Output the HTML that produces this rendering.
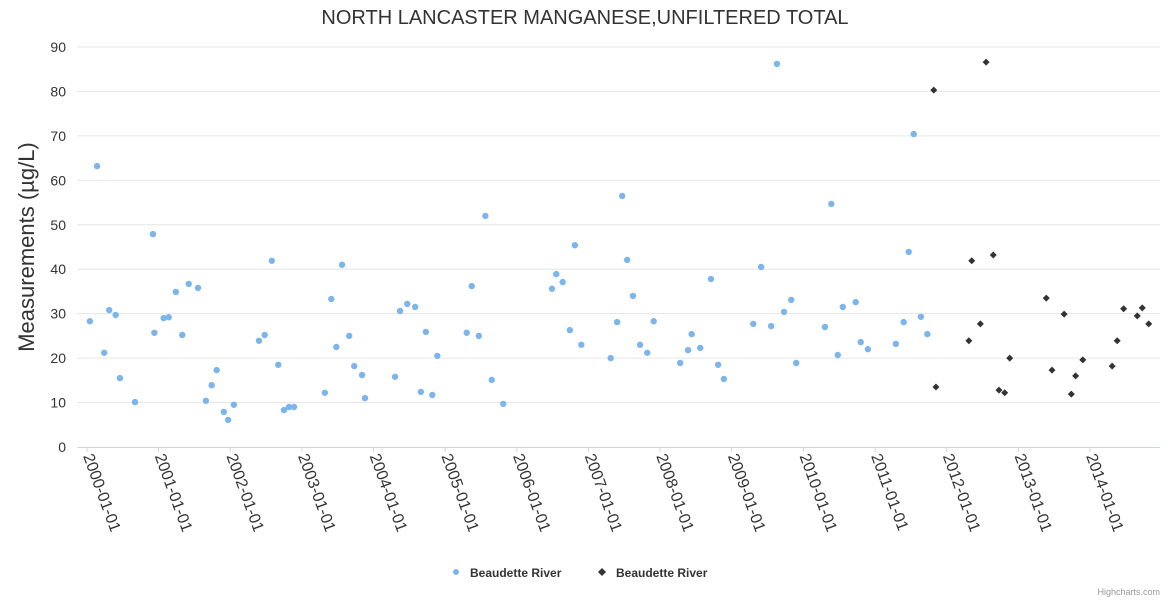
<!DOCTYPE html>
<html><head><meta charset="utf-8"><style>
body{margin:0;background:#fff;font-family:"Liberation Sans",sans-serif;}
</style></head><body>
<svg id="chart" width="1170" height="600" xmlns="http://www.w3.org/2000/svg" style="font-family:'Liberation Sans',sans-serif">
<rect width="1170" height="600" fill="#fff"/>
<text x="585" y="24" text-anchor="middle" font-size="20" fill="#333">NORTH LANCASTER MANGANESE,UNFILTERED TOTAL</text>
<text transform="translate(34,247) rotate(-90)" text-anchor="middle" font-size="22" fill="#333">Measurements (µg/L)</text>
<g id="grid"></g><g id="xaxis"></g><g id="marks"></g>
<g>
<g><circle cx="456" cy="572" r="3" fill="#7cb5ec"/><text x="470" y="577" font-size="12" font-weight="bold" fill="#333">Beaudette River</text></g>
<g><path d="M602 568 L606 572 L602 576 L598 572Z" fill="#333"/><text x="616" y="577" font-size="12" font-weight="bold" fill="#333">Beaudette River</text></g>
</g>
<text x="1160" y="595" text-anchor="end" font-size="9" fill="#999">Highcharts.com</text>
</svg>
<script>
const yTicks=[0,10,20,30,40,50,60,70,80,90];
const xTickYears=[2000,2001,2002,2003,2004,2005,2006,2007,2008,2009,2010,2011,2012,2013,2014];
const s1x=[2000.04,2000.14,2000.24,2000.31,2000.40,2000.46,2000.67,2000.92,2000.94,2001.07,2001.14,2001.24,2001.33,2001.42,2001.55,2001.66,2001.74,2001.81,2001.91,2001.97,2002.05,2002.40,2002.48,2002.58,2002.67,2002.75,2002.82,2002.89,2003.32,2003.41,2003.48,2003.56,2003.66,2003.73,2003.84,2003.88,2004.30,2004.37,2004.47,2004.58,2004.66,2004.73,2004.82,2004.89,2005.30,2005.37,2005.47,2005.56,2005.65,2005.81,2006.49,2006.55,2006.64,2006.74,2006.81,2006.90,2007.31,2007.40,2007.47,2007.54,2007.62,2007.72,2007.82,2007.91,2008.28,2008.39,2008.44,2008.56,2008.71,2008.81,2008.89,2009.30,2009.41,2009.55,2009.63,2009.73,2009.83,2009.90,2010.30,2010.39,2010.48,2010.55,2010.73,2010.80,2010.90,2011.29,2011.40,2011.47,2011.54,2011.64,2011.73];
const s1y=[28.3,63.2,21.2,30.8,29.7,15.5,10.1,47.9,25.7,29.0,29.2,34.9,25.2,36.7,35.8,10.4,13.9,17.3,7.9,6.1,9.5,23.9,25.2,41.9,18.5,8.3,9.0,9.0,12.2,33.3,22.5,41.0,25.0,18.2,16.2,11.0,15.8,30.6,32.2,31.5,12.4,25.9,11.7,20.5,25.7,36.2,25.0,52.0,15.1,9.7,35.6,38.9,37.1,26.3,45.4,23.0,20.0,28.1,56.5,42.1,34.0,23.0,21.2,28.3,18.9,21.8,25.4,22.3,37.8,18.5,15.3,27.7,40.5,27.2,86.2,30.4,33.1,18.9,27.0,54.7,20.7,31.5,32.6,23.6,22.0,23.2,28.1,43.9,70.4,29.3,25.4];
const s2x=[2011.82,2011.85,2012.31,2012.35,2012.47,2012.55,2012.65,2012.73,2012.81,2012.88,2013.39,2013.47,2013.64,2013.74,2013.80,2013.90,2014.31,2014.38,2014.47,2014.66,2014.73,2014.82];
const s2y=[80.3,13.5,23.9,41.9,27.7,86.6,43.2,12.8,12.2,20.0,33.5,17.3,29.9,11.9,16.0,19.6,18.2,23.9,31.1,29.5,31.3,27.7];
const NS="http://www.w3.org/2000/svg";
const X=v=>87+(v-2000)*71.64;
const Y=v=>447-v*400/90;
function mk(t,a,p){const e=document.createElementNS(NS,t);for(const k in a)e.setAttribute(k,a[k]);p.appendChild(e);return e;}
const grid=document.getElementById('grid'),xa=document.getElementById('xaxis'),marks=document.getElementById('marks');
yTicks.forEach(v=>{
 if(v>0){const l=mk('line',{x1:77,x2:1160,y1:Y(v),y2:Y(v),stroke:'#e6e6e6'},grid);
 
 }
 const t=mk('text',{x:66,y:Y(v)+5,'text-anchor':'end','font-size':14,fill:'#333'},grid);
 
 
 t.textContent=v;
});
const ax=mk('line',{x1:77,x2:1160,y1:447.5,y2:447.5,stroke:'#ccd6eb'},xa);


xTickYears.forEach(yr=>{
 const x=X(yr);
 mk('line',{x1:x,x2:x,y1:447,y2:452,stroke:'#ccd6eb'},xa);
 const t=mk('text',{transform:`translate(${x-4},${456}) rotate(70)`,'font-size':16,fill:'#333'},xa);
 
 
 t.textContent=yr+'-01-01';
});
s1x.forEach((v,i)=>{
 const c=mk('circle',{cx:X(v),cy:Y(s1y[i]),r:3.2,fill:'#7cb5ec'},marks);
 
 
});
s2x.forEach((v,i)=>{
 const x=X(v),y=Y(s2y[i]);
 const p=mk('path',{d:`M${x} ${y-3.5}L${x+3.5} ${y}L${x} ${y+3.5}L${x-3.5} ${y}Z`,fill:'#333'},marks);
 
 
});
</script>
</body></html>
